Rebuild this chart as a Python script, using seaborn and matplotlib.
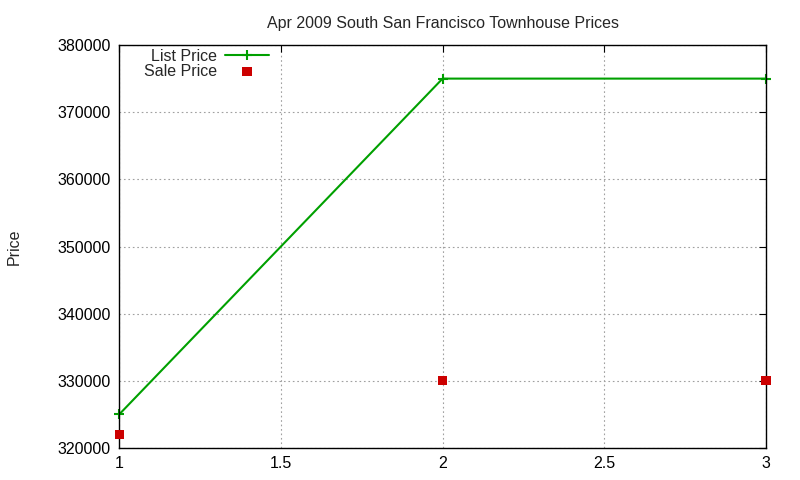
import pandas as pd
import matplotlib
matplotlib.use("Agg")
import matplotlib.pyplot as plt
import seaborn as sns

# values
months = [1, 2, 3]
list_price = [325000, 375000, 375000]
sale_price = [322000, 330000, 330000]

dados = pd.DataFrame({"x": months, "list": list_price, "sale": sale_price})

sns.set_style("white")
plt.rcParams["font.family"] = ["Liberation Sans", "DejaVu Sans"]

fig = plt.figure(figsize=(8, 4.8), dpi=100)
ax = fig.add_axes([0.149, 0.0667, 0.8085, 0.8395])

sns.lineplot(x="x", y="list", data=dados, ax=ax, color="#00a000", linewidth=1.5,
             marker="+", markersize=7, markeredgewidth=1.5,
             markeredgecolor="#00a000", label="List Price", clip_on=False)
sns.scatterplot(x="x", y="sale", data=dados, ax=ax, color="#cc0000", marker="s",
                s=45, edgecolor="none", label="Sale Price", zorder=5, clip_on=False)

ax.set_xlim(1, 3)
ax.set_ylim(320000, 380000)
ax.set_xticks([1, 1.5, 2, 2.5, 3])
ax.set_xticklabels(["1", "1.5", "2", "2.5", "3"])
ax.set_yticks(range(320000, 380001, 10000))
ax.set_yticklabels([str(v) for v in range(320000, 380001, 10000)])
ax.grid(True, linestyle=(0, (1.5, 2.5)), color="#a0a0a0", linewidth=0.8)
for s in ax.spines.values():
    s.set_color("black")
    s.set_linewidth(1)
ax.tick_params(direction="in", length=5, top=True, right=True, labelsize=11.5,
               colors="black", pad=6)
ax.set_xlabel("")
ax.set_ylabel("Price", fontsize=11.5, labelpad=26)
ax.set_title("Apr 2009 South San Francisco Townhouse Prices", fontsize=11.5, pad=12)

leg = ax.legend(loc="upper left", bbox_to_anchor=(0.029, 1.006), frameon=False,
                markerfirst=False, fontsize=11.5, handlelength=2.7, borderaxespad=0.2,
                labelspacing=0.0, handletextpad=0.5, borderpad=0.2)
for t in leg.get_texts():
    t.set_ha("right")

plt.savefig("out.png", dpi=100)
plt.close()
